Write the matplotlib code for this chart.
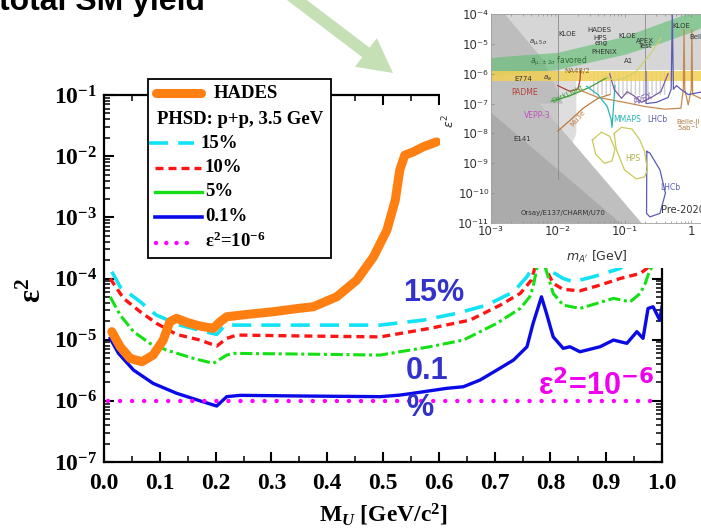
import numpy as np
import matplotlib
matplotlib.use('Agg')
import matplotlib.pyplot as plt
from matplotlib.patches import Rectangle, FancyArrow
from matplotlib.lines import Line2D
from matplotlib.ticker import MultipleLocator, LogLocator, NullFormatter

plt.rcParams['font.family'] = 'Liberation Serif'
plt.rcParams['mathtext.fontset'] = 'custom'
plt.rcParams['mathtext.rm'] = 'Liberation Serif:bold'
plt.rcParams['mathtext.it'] = 'Liberation Serif:italic:bold'
plt.rcParams['mathtext.bf'] = 'Liberation Serif:bold'

# ---- main plot data (M_U in GeV/c^2, eps^2) ----
hades_m = [0.014, 0.029, 0.047, 0.068, 0.088, 0.106, 0.118, 0.130, 0.150, 0.172, 0.196, 0.208, 0.220,
           0.262, 0.303, 0.348, 0.375, 0.417, 0.453, 0.483, 0.507, 0.522, 0.530, 0.539, 0.554, 0.572, 0.596]
hades_eps = [1.35e-5, 7.66e-6, 4.94e-6, 4.36e-6, 5.6e-6, 9.8e-6, 1.96e-5, 2.23e-5, 1.9e-5, 1.67e-5, 1.53e-5,
             1.96e-5, 2.37e-5, 2.62e-5, 2.86e-5, 3.24e-5, 3.45e-5, 5.02e-5, 9.42e-5, 2.26e-4, 6.18e-4,
             1.91e-3, 5.90e-3, 1.04e-2, 1.17e-2, 1.42e-2, 1.71e-2]

p15_m = [0.014, 0.029, 0.065, 0.079, 0.094, 0.136, 0.193, 0.202, 0.217, 0.285, 0.351, 0.495, 0.572, 0.632,
         0.686, 0.734, 0.758, 0.767, 0.783, 0.793, 0.823, 0.841, 0.877, 0.925, 0.96, 1.0]
p15_eps = [1.29e-4, 7.31e-5, 4.17e-5, 3.24e-5, 2.52e-5, 1.73e-5, 1.27e-5, 1.22e-5, 1.73e-5, 1.73e-5, 1.73e-5,
           1.73e-5, 2.09e-5, 2.69e-5, 3.67e-5, 6.07e-5, 1.07e-4, 1.46e-4, 4e-4, 1.46e-4, 1.0e-4, 8.83e-5,
           1.07e-4, 1.46e-4, 3e-4, 4e-4]

p10_m = [0.011, 0.035, 0.065, 0.094, 0.130, 0.172, 0.202, 0.220, 0.238, 0.351, 0.495, 0.584, 0.656, 0.710,
         0.746, 0.766, 0.771, 0.783, 0.793, 0.805, 0.823, 0.853, 0.889, 0.925, 0.961, 0.973, 1.0]
p10_eps = [1.0e-4, 4.73e-5, 2.86e-5, 1.85e-5, 1.22e-5, 9.85e-6, 7.85e-6, 1.05e-5, 1.19e-5, 1.15e-5, 1.11e-5,
           1.53e-5, 2.09e-5, 3.67e-5, 5.71e-5, 9.42e-5, 1.37e-4, 3e-4, 1.37e-4, 8.32e-5, 6.64e-5, 6.30e-5,
           7.80e-5, 1.0e-4, 1.21e-4, 1.46e-4, 3e-4]

p5_m = [0.011, 0.029, 0.053, 0.082, 0.112, 0.160, 0.196, 0.220, 0.232, 0.351, 0.495, 0.584, 0.644, 0.704,
        0.746, 0.763, 0.769, 0.775, 0.783, 0.796, 0.805, 0.823, 0.853, 0.913, 0.943, 0.961, 0.970, 0.978, 1.0]
p5_eps = [5.02e-5, 2.52e-5, 1.35e-5, 8.71e-6, 6.76e-6, 4.95e-6, 4.10e-6, 5.60e-6, 5.97e-6, 5.82e-6, 5.60e-6,
          7.66e-6, 9.85e-6, 1.85e-5, 3.24e-5, 5.02e-5, 7.31e-5, 1.37e-4, 2.5e-4, 1.07e-4, 5.71e-5, 3.67e-5,
          3.24e-5, 4.73e-5, 4.16e-5, 5.71e-5, 8.32e-5, 1.37e-4, 2.5e-4]

p01_m = [0.011, 0.026, 0.053, 0.088, 0.130, 0.172, 0.202, 0.220, 0.244, 0.351, 0.495, 0.530, 0.554, 0.614,
         0.644, 0.674, 0.704, 0.734, 0.758, 0.769, 0.784, 0.793, 0.805, 0.823, 0.835, 0.853, 0.889, 0.913,
         0.937, 0.955, 0.966, 0.975, 0.984, 0.996, 1.0]
p01_eps = [1.05e-5, 5.97e-6, 3.18e-6, 1.93e-6, 1.33e-6, 1.00e-6, 8.22e-7, 1.17e-6, 1.23e-6, 1.20e-6, 1.17e-6,
           1.24e-6, 1.33e-6, 1.60e-6, 1.70e-6, 2.19e-6, 3.18e-6, 4.65e-6, 7.66e-6, 1.85e-5, 5.02e-5, 2.69e-5,
           1.11e-5, 7.21e-6, 7.66e-6, 6.34e-6, 7.66e-6, 9.85e-6, 8.71e-6, 1.35e-5, 1.05e-5, 3.24e-5, 3.45e-5,
           2.09e-5, 3.45e-5]

ref_m = [0.008, 1.0]
ref_eps = [1e-6, 1e-6]

x_ticks = [0.0, 0.1, 0.2, 0.3, 0.4, 0.5, 0.6, 0.7, 0.8, 0.9, 1.0]
y_exps = [-7, -6, -5, -4, -3, -2, -1]

# ---- inset data (m_A' in GeV, eps^2) ----
top_gray_m = [1e-3, 10, 10, 1e-3]
top_gray_e = [1e-4, 1e-4, 1.3e-6, 1.3e-6]
left_gray_m = [1e-3, 1e-2, 1e-2, 1e-3]
left_gray_e = [1.3e-6, 1.3e-6, 1e-11, 1e-11]
kloe_box_m = [1e-2, 1.9e-2, 1.9e-2, 1.6e-2, 1.2e-2, 1e-2]
kloe_box_e = [1.3e-6, 1.3e-6, 1e-8, 4e-9, 3.5e-9, 5e-9]
diag_m = [1e-3, 1.6e-3, 6e-3, 1.2e-2, 1e-3]
diag_e = [1e-4, 1e-4, 3e-6, 1e-7, 1e-7]
dump_out_m = [1e-3, 0.18, 1e-3]
dump_out_e = [8e-6, 1e-11, 1e-11]
dump_in_m = [1e-3, 0.087, 1e-3]
dump_in_e = [5e-8, 1e-11, 1e-11]
gband_m = [1e-3, 1.74e-3, 1e-2, 0.1, 0.316, 1.0, 3.16]
gband_lo = [8.9e-7, 9.5e-7, 1.41e-6, 4.47e-6, 1e-5, 2.5e-5, 7.9e-5]
gband_hi = [3.5e-6, 3.9e-6, 5.2e-6, 1.8e-5, 4.6e-5, 1.17e-4, 3.2e-4]
yband_e = [5.5e-7, 1.2e-6]
na48_m = [3e-2, 0.45]
na48_lo = [2e-7, 2e-7]
na48_hi = [1.2e-6, 1.2e-6]

padme_m = [1e-2, 1.5e-2, 2e-2, 2.15e-2, 2.2e-2]
padme_e = [4e-7, 2.6e-7, 3e-7, 6e-7, 1.3e-6]
darklight_m = [8e-3, 1.5e-2, 3e-2, 5.5e-2]
darklight_e = [1.2e-7, 1.8e-7, 3.5e-7, 7.5e-7]
mu3e_m = [1e-2, 1.6e-2, 2.4e-2, 4e-2, 6e-2]
mu3e_e = [1.2e-8, 3e-8, 7e-8, 1.5e-7, 2e-7]
belle_m = [2e-2, 4e-2, 0.1, 0.2, 0.4, 0.7, 0.76, 0.78, 0.8, 0.9, 1.0, 1.02, 1.05, 2, 5]
belle_e = [3e-7, 1.6e-7, 1.1e-7, 8e-8, 6.5e-8, 7e-8, 3e-7, 3e-5, 3e-7, 9e-8, 3e-7, 3e-5, 2e-7, 1e-7, 1e-7]
mmaps_m = [2.7e-2, 4e-2, 5.5e-2, 6.3e-2, 6.5e-2, 6.7e-2, 7.2e-2]
mmaps_e = [3.8e-7, 2e-7, 8e-8, 3e-8, 1.6e-8, 4e-8, 4e-7]
apex_m = [6e-2, 7e-2, 9e-2, 0.11, 0.14, 0.18, 0.25, 0.35, 0.45]
apex_e = [1e-6, 3e-7, 1.5e-7, 2.5e-7, 1.8e-7, 1.1e-7, 1.6e-7, 2.5e-7, 1e-6]
lhcb_hi_m = [0.21, 0.21, 0.3, 0.45, 0.5, 0.52, 0.54, 0.6, 0.7, 0.9, 1.5, 3]
lhcb_hi_e = [1.2e-6, 1e-7, 1.1e-7, 1.6e-7, 3e-7, 1e-4, 3e-7, 4e-7, 3e-7, 2e-7, 2.5e-7, 3e-7]
lhcb_lo_m = [0.216, 0.214, 0.24, 0.34, 0.41, 0.34, 0.24, 0.216]
lhcb_lo_e = [2.5e-9, 2.1e-11, 1.6e-11, 2.1e-11, 1e-10, 6e-10, 2.2e-9, 2.5e-9]
hps1_m = [0.033, 0.045, 0.06, 0.072, 0.065, 0.05, 0.037, 0.033]
hps1_e = [6e-9, 1.1e-8, 8e-9, 3e-9, 1.2e-9, 1e-9, 2e-9, 6e-9]
hps2_m = [0.07, 0.09, 0.13, 0.17, 0.2, 0.22, 0.2, 0.15, 0.1, 0.075, 0.07]
hps2_e = [1e-8, 1.6e-8, 1.4e-8, 6e-9, 2.5e-9, 6e-10, 3.5e-10, 3e-10, 6e-10, 3e-9, 1e-8]
hps_top_m = [5e-2, 7e-2, 0.1, 0.15, 0.25, 0.35]
hps_top_e = [8e-7, 6e-7, 7e-7, 1.2e-6, 5e-6, 1.5e-5]
edge1_m = [1e-2, 1e-2]
edge1_e = [1e-4, 3e-10]
edge2_m = [0.2, 0.2]
edge2_e = [1e-4, 1.3e-6]

inset_xt = [1e-3, 1e-2, 1e-1, 1, 10]
inset_yt = [1e-11, 1e-10, 1e-9, 1e-8, 1e-7, 1e-6, 1e-5, 1e-4]

W, H = 701, 529
fig = plt.figure(figsize=(W / 100, H / 100), dpi=100)


def fx(px):
    return px / W


def fy(py):
    return 1 - py / H


c_orange = '#ff7f12'
c_cyan = '#12e2f5'
c_red = '#ff1414'
c_green = '#14e014'
c_blue = '#0a0ae6'
c_mag = '#ff00ff'

ax = fig.add_axes([fx(104), fy(462), 558 / W, 367 / H])
ax.set_yscale('log')
ax.plot(hades_m, hades_eps, color=c_orange, lw=6.5, solid_capstyle='round', solid_joinstyle='round', zorder=3)
ax.plot(p15_m, p15_eps, color=c_cyan, lw=2.6, dashes=(5.3, 2.8))
ax.plot(p10_m, p10_eps, color=c_red, lw=2.4, dashes=(2.4, 1.5))
ax.plot(p5_m, p5_eps, color=c_green, lw=2.2, dashes=(4, 1.2, 1, 1.2))
ax.plot(p01_m, p01_eps, color=c_blue, lw=2.4)
ax.plot(ref_m, ref_eps, color=c_mag, lw=3.2, dashes=(0.01, 2.7), dash_capstyle='round')

ax.set_xlim(0, 1.0)
ax.set_ylim(1e-7, 1e-1)
ax.set_xticks(x_ticks, labels=['%.1f' % v for v in x_ticks], fontsize=17, fontweight='bold')
ax.set_yticks([10.0 ** e for e in y_exps], labels=['$10^{%d}$' % e for e in y_exps], fontsize=17)
ax.xaxis.set_minor_locator(MultipleLocator(0.05))
ax.yaxis.set_minor_locator(LogLocator(base=10, subs=np.arange(2, 10), numticks=30))
ax.yaxis.set_minor_formatter(NullFormatter())
ax.tick_params(which='both', direction='in', top=True, right=True)
ax.tick_params(which='major', length=7, width=1.5)
ax.tick_params(which='minor', length=4, width=1.1)
ax.tick_params(axis='x', pad=8)
ax.tick_params(axis='y', pad=5)
for s in ax.spines.values():
    s.set_linewidth(1.6)
ax.set_xlabel('M$_{U}$ [GeV/c$^2$]', fontsize=17, fontweight='bold', va='center')
ax.xaxis.set_label_coords(0.5, -0.145)
ax.set_ylabel('ε$^2$', fontsize=22, fontweight='bold', va='center')
ax.yaxis.set_label_coords(-0.127, 0.466)

# annotations on the main plot
blue_txt = '#3333cc'
fig.text(fx(403), fy(293), '15%', color=blue_txt, fontsize=22, family='Liberation Sans', weight='bold', va='center')
fig.text(fx(406), fy(371), '0.1', color=blue_txt, fontsize=22, family='Liberation Sans', weight='bold', va='center')
fig.text(fx(406), fy(408), '%', color=blue_txt, fontsize=22, family='Liberation Sans', weight='bold', va='center')
fig.text(fx(538), fy(386), r'ε$^{\mathbf{2}}$=10$^{\mathbf{-6}}$', color='#f000f0', fontsize=22,
         family='Liberation Sans', weight='bold', va='center', math_fontfamily='dejavusans')

# legend box drawn by hand (it sticks out above the frame)
fig.add_artist(Rectangle((fx(148), fy(258)), (331 - 148) / W, (258 - 79) / H, transform=fig.transFigure,
                         facecolor='white', edgecolor='black', lw=1.3, zorder=6))
leg_kw = dict(transform=fig.transFigure, zorder=7)
fig.add_artist(Line2D([fx(156), fx(201)], [fy(93)] * 2, color=c_orange, lw=6.5, solid_capstyle='round', **leg_kw))
fig.add_artist(Line2D([fx(149), fx(194)], [fy(143)] * 2, color=c_cyan, lw=2.6, dashes=(5.3, 2.8), **leg_kw))
fig.add_artist(Line2D([fx(155), fx(201)], [fy(168)] * 2, color=c_red, lw=2.4, dashes=(2.4, 1.5), **leg_kw))
fig.add_artist(Line2D([fx(155), fx(202)], [fy(192)] * 2, color=c_green, lw=2.4, **leg_kw))
fig.add_artist(Line2D([fx(155), fx(202)], [fy(217)] * 2, color=c_blue, lw=2.6, **leg_kw))
fig.add_artist(Line2D([fx(156), fx(192)], [fy(243)] * 2, color=c_mag, lw=3.2, dashes=(0.01, 2.3),
                      dash_capstyle='round', **leg_kw))
leg_txt = dict(fontsize=13.5, fontweight='bold', va='center', zorder=8)
fig.text(fx(214), fy(93), 'HADES', **leg_txt)
fig.text(fx(157), fy(119), 'PHSD: p+p, 3.5 GeV', **leg_txt)
fig.text(fx(201), fy(143), '15%', **leg_txt)
fig.text(fx(205), fy(168), '10%', **leg_txt)
fig.text(fx(205), fy(192), '5%', **leg_txt)
fig.text(fx(205), fy(217), '0.1%', **leg_txt)
fig.text(fx(205), fy(241), 'ε$^2$=10$^{-6}$', **leg_txt)

# cut-off slide title and arrow
fig.text(fx(-1), fy(10), 'total SM yield', fontsize=23, family='Liberation Sans', weight='bold', va='baseline')
fig.add_artist(FancyArrow(2.826, 5.398, 1.104, -0.838, width=0.12, head_width=0.36, head_length=0.34,
                          length_includes_head=True, transform=fig.dpi_scale_trans,
                          color='#c5e0b4', lw=0, zorder=7))

# ---- inset (pasted picture) ----
fig.add_artist(Rectangle((fx(440), fy(268)), 262 / W, 268 / H, transform=fig.transFigure,
                         facecolor='white', edgecolor='none', zorder=4))
axi = fig.add_axes([fx(491), fy(223), 267 / W, 209 / H], zorder=5)
axi.set_xscale('log')
axi.set_yscale('log')
axi.fill(top_gray_m, top_gray_e, color='#d6d6d6', lw=0)
axi.fill(left_gray_m, left_gray_e, color='#c9c9c9', lw=0)
axi.fill(kloe_box_m, kloe_box_e, color='#dedede', lw=0)
axi.fill(diag_m, diag_e, color='#bdbdbd', lw=0)
axi.fill(dump_out_m, dump_out_e, color='#bfbfbf', lw=0)
axi.fill(dump_in_m, dump_in_e, color='#ababab', lw=0)
axi.fill_between(na48_m, na48_lo, na48_hi, facecolor='none', edgecolor='#cfcfcf', hatch='||||', lw=0)
axi.fill_between(gband_m, gband_lo, gband_hi, color='#5cbf6e', alpha=0.6, lw=0)
axi.axhspan(yband_e[0], yband_e[1], color='#f3cf55', alpha=0.85, lw=0)
axi.plot(edge1_m, edge1_e, color='#8a8a8a', lw=0.6)
axi.plot(edge2_m, edge2_e, color='#8a8a8a', lw=0.6)
axi.plot(padme_m, padme_e, color='#b5403a', lw=0.9)
axi.plot(darklight_m, darklight_e, color='#3d9e3d', lw=0.9)
axi.plot(mu3e_m, mu3e_e, color='#c0783a', lw=0.9)
axi.plot(belle_m, belle_e, color='#c68a4e', lw=0.9)
axi.plot(mmaps_m, mmaps_e, color='#2ab5b5', lw=0.9)
axi.plot(apex_m, apex_e, color='#7a5aa8', lw=0.9)
axi.plot(lhcb_hi_m, lhcb_hi_e, color='#5b5bb5', lw=0.9)
axi.plot(lhcb_lo_m, lhcb_lo_e, color='#5b5bb5', lw=0.9)
axi.plot(hps1_m, hps1_e, color='#c9c95a', lw=0.9)
axi.plot(hps2_m, hps2_e, color='#c9c95a', lw=0.9)
axi.plot(hps_top_m, hps_top_e, color='#d0d070', lw=0.9)

lab = dict(fontsize=5, family='DejaVu Sans', color='#333333', ha='center', va='center',
           math_fontfamily='dejavusans')
axi.text(1.4e-2, 2.1e-5, 'KLOE', **lab)
axi.text(4.2e-2, 2.9e-5, 'HADES', **lab)
axi.text(4.4e-2, 1.3e-5, 'HPS\neng', linespacing=0.8, **lab)
axi.text(0.112, 1.8e-5, 'KLOE', **lab)
axi.text(5e-2, 5.2e-6, 'PHENIX', **lab)
axi.text(0.2, 1e-5, 'APEX\nTest', linespacing=0.8, **lab)
axi.text(0.117, 2.6e-6, 'A1', **lab)
axi.text(0.72, 4e-5, 'KLOE', **lab)
axi.text(1.25, 1.7e-5, 'Belle', **lab)
axi.text(5e-3, 1.1e-5, r'$a_{\mu,5\sigma}$', **lab)
axi.text(1.03e-2, 2.6e-6, r'$a_{\mu,\pm2\sigma}$ favored', **dict(lab, color='#2e6b36', fontsize=5.5))
axi.text(1.95e-2, 1.2e-6, 'NA48/2', **dict(lab, color='#8a6a20'))
axi.text(3e-3, 6.9e-7, 'E774', **lab)
axi.text(7.1e-3, 6.9e-7, r'$a_e$', **lab)
axi.text(3.2e-3, 2.3e-7, 'PADME', **dict(lab, color='#b5403a', fontsize=5.5))
axi.text(1.4e-2, 2.1e-7, 'DarkLight', rotation=25, **dict(lab, color='#3d9e3d'))
axi.text(2e-2, 3.2e-8, 'Mu3e', rotation=50, **dict(lab, color='#c0783a'))
axi.text(5e-3, 4e-8, 'VEPP-3', **dict(lab, color='#c050c0', fontsize=5.5))
axi.text(2.9e-3, 6.3e-9, 'E141', **lab)
axi.text(2.75e-3, 2.1e-11, 'Orsay/E137/CHARM/U70', **dict(lab, ha='left'))
axi.text(6.8e-2, 2.9e-8, 'MMAPS', **dict(lab, color='#2ab5b5', ha='left', fontsize=5.5))
axi.text(0.31, 2.9e-8, 'LHCb', **dict(lab, color='#5b5bb5', fontsize=5.5))
axi.text(0.48, 1.5e-10, 'LHCb', **dict(lab, color='#5b5bb5', fontsize=5.5))
axi.text(0.19, 1.4e-7, 'APEX', rotation=20, **dict(lab, color='#7a5aa8', fontsize=5.5))
axi.text(0.135, 1.5e-9, 'HPS', **dict(lab, color='#b0b050', fontsize=5.5))
axi.text(0.9, 2.5e-8, 'Belle-II', **dict(lab, color='#b07a40'))
axi.text(0.9, 1.5e-8, r'5ab$^{-1}$', **dict(lab, color='#b07a40'))
axi.text(0.355, 2.7e-11, 'Pre-2020', **dict(lab, ha='left', fontsize=7))

sup = str.maketrans('-0123456789', '⁻⁰¹²³⁴⁵⁶⁷⁸⁹')


def inset_label(v):
    e = int(round(np.log10(v)))
    if e == 0:
        return '1'
    if e == 1:
        return '10'
    return '10' + str(e).translate(sup)


axi.set_xlim(1e-3, 10)
axi.set_ylim(1e-11, 1e-4)
axi.set_xticks(inset_xt, labels=[inset_label(v) for v in inset_xt], fontsize=8.5, family='DejaVu Sans',
               color='#333333')
axi.set_yticks(inset_yt, labels=[inset_label(v) for v in inset_yt], fontsize=8.5, family='DejaVu Sans',
               color='#333333')
axi.xaxis.set_minor_formatter(NullFormatter())
axi.yaxis.set_minor_formatter(NullFormatter())
axi.tick_params(which='both', direction='in', color='#888888', width=0.5, top=True, right=True)
axi.tick_params(which='major', length=2.5, pad=1.5)
axi.tick_params(which='minor', length=1.3)
for s in axi.spines.values():
    s.set_color('#a0a0a0')
    s.set_linewidth(0.6)
axi.set_xlabel(r"$m_{A^{\prime}}$ [GeV]", fontsize=9, family='DejaVu Sans', color='#333333',
               math_fontfamily='dejavusans', va='center')
axi.xaxis.set_label_coords(0.397, -0.163)
axi.set_ylabel(r'$\epsilon^2$', fontsize=9, color='#333333', math_fontfamily='dejavusans', va='center')
axi.yaxis.set_label_coords(-0.157, 0.488)

fig.savefig('out.png', dpi=100)
